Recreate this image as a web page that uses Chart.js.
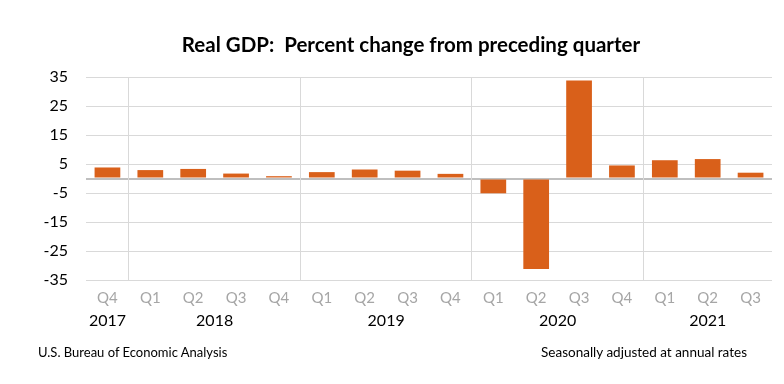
<!DOCTYPE html>
<html>
<head>
<meta charset="utf-8">
<script src="https://cdn.jsdelivr.net/npm/chart.js@4"></script>
<style>
  html, body { margin: 0; padding: 0; background: #fff; }
  #wrap { position: relative; width: 784px; height: 384px; }
  canvas { position: absolute; left: 0; top: 0; }
  .title { position: absolute; left: 0; width: 822px; top: 32px; text-align: center;
           font: bold 20.5px Lato, sans-serif; color: #000; white-space: pre; }
  .foot { position: absolute; top: 344px; font: 13px Lato, sans-serif; color: #000; }
</style>
</head>
<body>
<div id="wrap">
  <canvas id="gdpChart" width="784" height="384"></canvas>
  <div class="title">Real GDP:  Percent change from preceding quarter</div>
  <div class="foot" style="left:38px">U.S. Bureau of Economic Analysis</div>
  <div class="foot" style="right:37px; font-size:13.5px">Seasonally adjusted at annual rates</div>
</div>
<script>
const quarters = ['Q4', 'Q1', 'Q2', 'Q3', 'Q4', 'Q1', 'Q2', 'Q3', 'Q4', 'Q1', 'Q2', 'Q3', 'Q4', 'Q1', 'Q2', 'Q3'];
const years = ['2017', '2018', '2018', '2018', '2018', '2019', '2019', '2019', '2019', '2020', '2020', '2020', '2020', '2021', '2021', '2021'];
const gdpChange = [3.8, 2.9, 3.3, 1.7, 0.8, 2.2, 3.1, 2.7, 1.6, -5.1, -31.2, 33.8, 4.5, 6.3, 6.7, 2.0];
const yTicks = [-35, -25, -15, -5, 0, 5, 15, 25, 35];

// year label sits at the middle of its run of quarters; a year line sits before each Q1
const yearCenters = [];
const yearStarts = [];
years.forEach((y, i) => {
  if (i === 0 || years[i - 1] !== y) {
    let j = i;
    while (j + 1 < years.length && years[j + 1] === y) j++;
    yearCenters.push({ value: (i + j) / 2, label: y });
    if (i > 0) yearStarts.push(i);
  }
});

const barColor = '#D9601A';
const gridColor = '#d9d9d9';

new Chart(document.getElementById('gdpChart'), {
  type: 'bar',
  data: {
    labels: quarters,
    datasets: [{
      data: gdpChange,
      backgroundColor: barColor,
      borderWidth: 0,
      barPercentage: 0.6,
      categoryPercentage: 1
    }]
  },
  options: {
    responsive: false,
    animation: false,
    layout: { padding: { top: 77, left: 10, right: 12, bottom: 44 } },
    plugins: {
      legend: { display: false },
      tooltip: { enabled: false }
    },
    scales: {
      y: {
        min: -35,
        max: 35,
        afterBuildTicks: (scale) => { scale.ticks = yTicks.map(v => ({ value: v })); },
        afterFit: (scale) => { scale.width = 76; },
        border: { display: false },
        grid: {
          drawTicks: false,
          color: (ctx) => ctx.tick && ctx.tick.value === 0 ? '#bfbfbf' : gridColor,
          lineWidth: (ctx) => ctx.tick && ctx.tick.value === 0 ? 2 : 1
        },
        ticks: {
          padding: 18,
          color: '#000',
          font: { family: 'Lato', size: 16 },
          callback: (v) => v === 0 ? '' : v
        }
      },
      x: {
        border: { display: false },
        grid: {
          offset: true,
          drawTicks: false,
          color: (ctx) => yearStarts.includes(ctx.index) ? gridColor : 'rgba(0,0,0,0)'
        },
        afterFit: (scale) => { scale.height = 30; },
        ticks: {
          padding: 9,
          maxRotation: 0,
          autoSkip: false,
          color: '#a6a6a6',
          font: { family: 'Lato', size: 15 }
        }
      },
      year: {
        type: 'linear',
        position: 'bottom',
        offset: false,
        bounds: 'data',
        min: -0.5,
        max: quarters.length - 0.5,
        afterBuildTicks: (scale) => {
          scale.ticks = yearCenters.map(c => ({ value: c.value }));
          scale.min = -0.5;
          scale.max = quarters.length - 0.5;
        },
        afterFit: (scale) => { scale.height = 30; },
        border: { display: false },
        grid: { display: false, drawTicks: false, offset: false },
        ticks: {
          padding: 1,
          maxRotation: 0,
          autoSkip: false,
          color: '#000',
          font: { family: 'Lato', size: 16 },
          callback: (v) => {
            const c = yearCenters.find(c => c.value === v);
            return c ? c.label : '';
          }
        }
      }
    }
  }
});
</script>
</body>
</html>
